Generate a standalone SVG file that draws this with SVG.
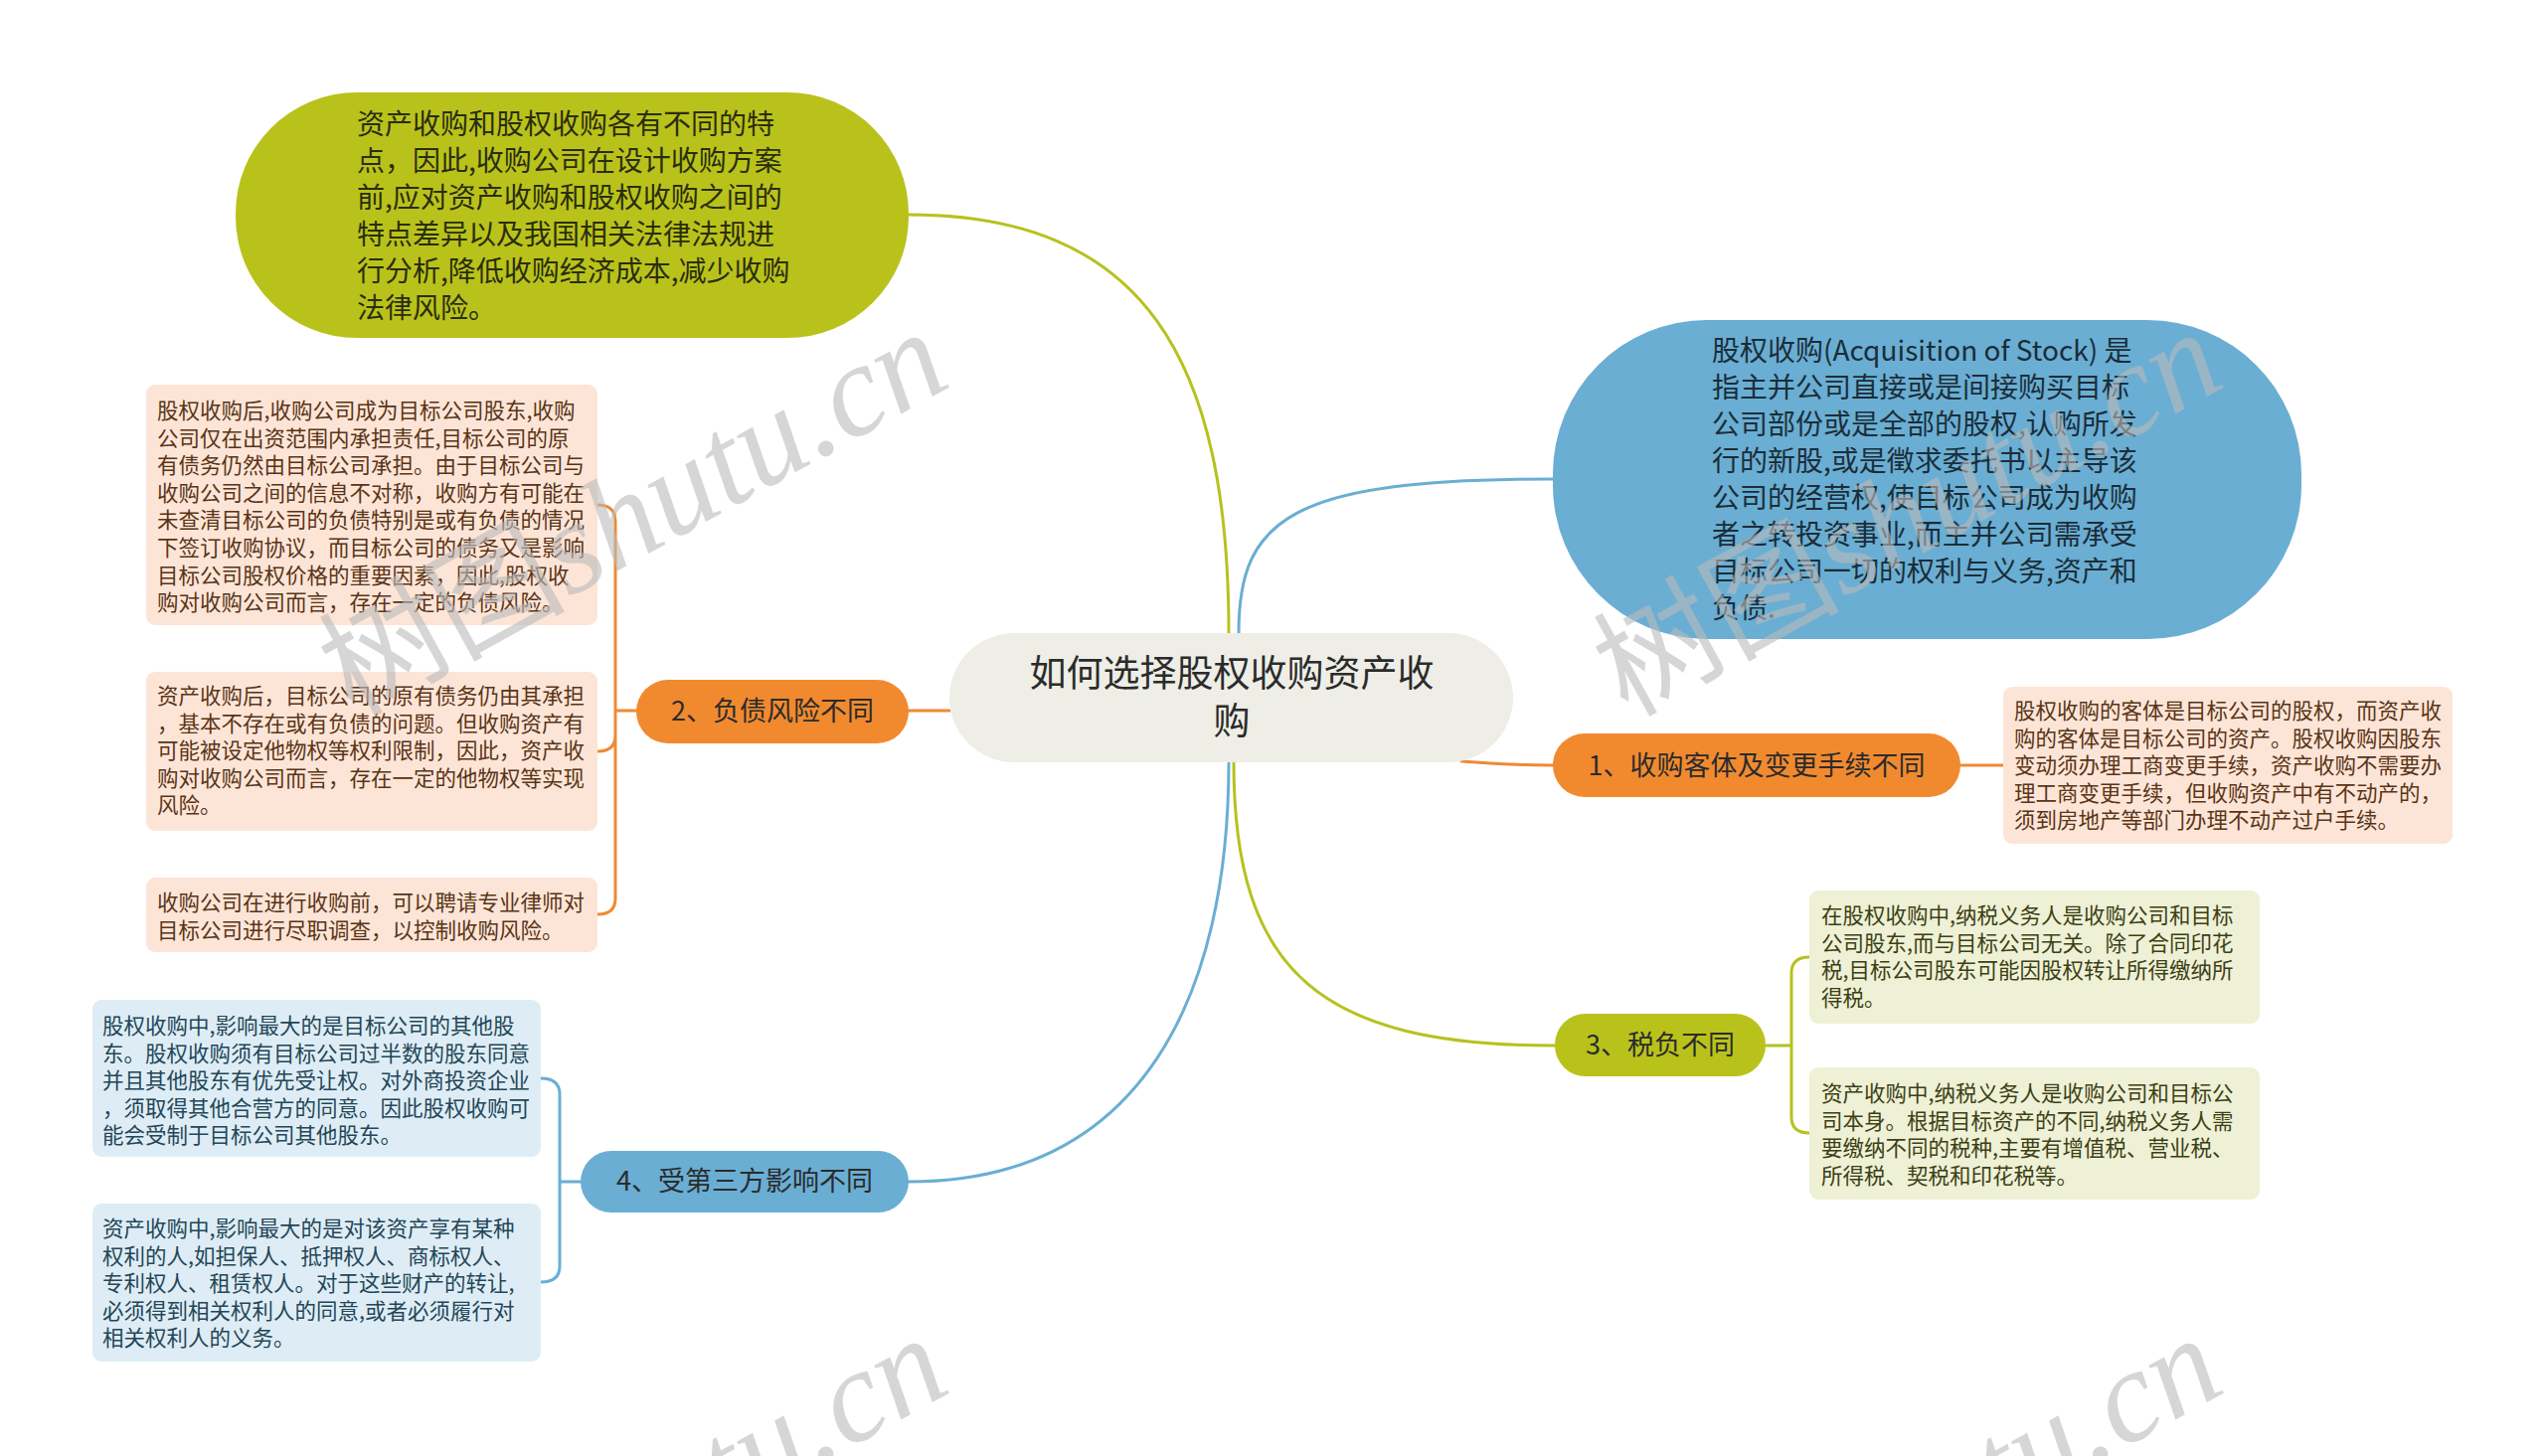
<svg xmlns="http://www.w3.org/2000/svg" width="2560" height="1465" viewBox="0 0 2560 1465">
<style>
text{font-family:"Noto Sans CJK SC","Noto Sans",sans-serif;dominant-baseline:central}
.c{fill:none;stroke-width:3;stroke-linecap:round;stroke-linejoin:round}
.cg{stroke:#b6c21d}.cb{stroke:#6aaed3}.co{stroke:#ee8a33}
.big{font-size:28px}
.leaf{font-size:21.5px}
.br{font-size:27px;fill:#2b2b2b;text-anchor:middle}
.fo{fill:#fce5d7}.fg{fill:#eef1d6}.fb{fill:#deedf5}
.to{fill:#5a3416}.tg{fill:#3c4014}.tb{fill:#244658}
.wm{fill:#bbbbbb;opacity:0.6;font-size:124px}
.wm .s{font-family:"Liberation Serif",serif;font-style:italic;font-size:132px}
</style>
<rect width="2560" height="1465" fill="#ffffff"/>
<g id="connectors">
<path class="c cg" d="M1236,637 C1236,360 1150,216 914,216"/>
<path class="c cb" d="M1246,637 C1246,520 1300,482 1562,482"/>
<path class="c co" d="M1470,766 C1510,769 1530,770 1562,770"/>
<path class="c co" d="M914,715 L955,715"/>
<path class="c cg" d="M1241,767 C1241,980 1330,1052 1564,1052"/>
<path class="c cb" d="M1236,767 C1236,1000 1150,1189 914,1189"/>
<path class="c co" d="M1972,770 L2015,770"/>
<path class="c co" d="M640,715 L619,715 L619,524 Q619,508 601,508 M619,715 L619,740 Q619,756 601,756 M619,715 L619,904 Q619,920 601,920"/>
<path class="c cb" d="M584,1189 L563,1189 L563,1101 Q563,1085 544,1085 M563,1189 L563,1274 Q563,1290 544,1290"/>
<path class="c cg" d="M1776,1052 L1802,1052 L1802,979 Q1802,963 1820,963 M1802,1052 L1802,1124 Q1802,1140 1820,1140"/>
</g>
<g id="node-top">
<rect x="237" y="93" width="677" height="247" rx="122" ry="122" fill="#b9c21b"/>
<text class="big" fill="#2a2d0e"><tspan x="359" y="123">资产收购和股权收购各有不同的特</tspan><tspan x="359" y="160">点，因此,收购公司在设计收购方案</tspan><tspan x="359" y="197">前,应对资产收购和股权收购之间的</tspan><tspan x="359" y="234">特点差异以及我国相关法律法规进</tspan><tspan x="359" y="271">行分析,降低收购经济成本,减少收购</tspan><tspan x="359" y="308">法律风险。</tspan></text>
</g>
<g id="node-def">
<rect x="1562" y="322" width="753" height="321" rx="155" ry="155" fill="#6aaed3"/>
<text class="big" fill="#1b2d38"><tspan x="1722" y="351">股权收购(Acquisition of Stock) 是</tspan><tspan x="1722" y="388">指主并公司直接或是间接购买目标</tspan><tspan x="1722" y="425">公司部份或是全部的股权,认购所发</tspan><tspan x="1722" y="462">行的新股,或是徵求委托书以主导该</tspan><tspan x="1722" y="499">公司的经营权,使目标公司成为收购</tspan><tspan x="1722" y="536">者之转投资事业,而主并公司需承受</tspan><tspan x="1722" y="573">目标公司一切的权利与义务,资产和</tspan><tspan x="1722" y="610">负债.</tspan></text>
</g>
<g id="node-center">
<rect x="955" y="637" width="567" height="130" rx="65" ry="65" fill="#eeeee6"/>
<text font-size="37" fill="#2b2b2b" text-anchor="middle"><tspan x="1239" y="675">如何选择股权收购资产收</tspan><tspan x="1239" y="723">购</tspan></text>
</g>
<g id="node-1">
<rect x="1562" y="738" width="410" height="64" rx="32" fill="#f18a2f"/>
<text class="br" x="1767" y="768">1、收购客体及变更手续不同</text>
</g>
<g id="node-2">
<rect x="640" y="684" width="274" height="64" rx="32" fill="#f18a2f"/>
<text class="br" x="777" y="713">2、负债风险不同</text>
</g>
<g id="node-3">
<rect x="1564" y="1020" width="212" height="63" rx="31" fill="#b9c21b"/>
<text class="br" x="1670" y="1049">3、税负不同</text>
</g>
<g id="node-4">
<rect x="584" y="1158" width="330" height="62" rx="31" fill="#6aaed3"/>
<text class="br" x="749" y="1186">4、受第三方影响不同</text>
</g>
<g id="leaf-1a">
<rect class="fo" x="2015" y="691" width="452" height="158" rx="9"/>
<text class="leaf to"><tspan x="2026" y="713">股权收购的客体是目标公司的股权，而资产收</tspan><tspan x="2026" y="740.6">购的客体是目标公司的资产。股权收购因股东</tspan><tspan x="2026" y="768.2">变动须办理工商变更手续，资产收购不需要办</tspan><tspan x="2026" y="795.8">理工商变更手续，但收购资产中有不动产的，</tspan><tspan x="2026" y="823.4">须到房地产等部门办理不动产过户手续。</tspan></text>
</g>
<g id="leaf-2a">
<rect class="fo" x="147" y="387" width="454" height="242" rx="9"/>
<text class="leaf to"><tspan x="158" y="411">股权收购后,收购公司成为目标公司股东,收购</tspan><tspan x="158" y="438.6">公司仅在出资范围内承担责任,目标公司的原</tspan><tspan x="158" y="466.2">有债务仍然由目标公司承担。由于目标公司与</tspan><tspan x="158" y="493.8">收购公司之间的信息不对称，收购方有可能在</tspan><tspan x="158" y="521.4">未查清目标公司的负债特别是或有负债的情况</tspan><tspan x="158" y="549">下签订收购协议，而目标公司的债务又是影响</tspan><tspan x="158" y="576.6">目标公司股权价格的重要因素，因此,股权收</tspan><tspan x="158" y="604.2">购对收购公司而言，存在一定的负债风险。</tspan></text>
</g>
<g id="leaf-2b">
<rect class="fo" x="147" y="676" width="454" height="160" rx="9"/>
<text class="leaf to"><tspan x="158" y="698">资产收购后，目标公司的原有债务仍由其承担</tspan><tspan x="158" y="725.6">，基本不存在或有负债的问题。但收购资产有</tspan><tspan x="158" y="753.2">可能被设定他物权等权利限制，因此，资产收</tspan><tspan x="158" y="780.8">购对收购公司而言，存在一定的他物权等实现</tspan><tspan x="158" y="808.4">风险。</tspan></text>
</g>
<g id="leaf-2c">
<rect class="fo" x="147" y="883" width="454" height="75" rx="9"/>
<text class="leaf to"><tspan x="158" y="906">收购公司在进行收购前，可以聘请专业律师对</tspan><tspan x="158" y="933.6">目标公司进行尽职调查，以控制收购风险。</tspan></text>
</g>
<g id="leaf-3a">
<rect class="fg" x="1820" y="896" width="453" height="134" rx="9"/>
<text class="leaf tg"><tspan x="1832" y="919">在股权收购中,纳税义务人是收购公司和目标</tspan><tspan x="1832" y="946.6">公司股东,而与目标公司无关。除了合同印花</tspan><tspan x="1832" y="974.2">税,目标公司股东可能因股权转让所得缴纳所</tspan><tspan x="1832" y="1001.8">得税。</tspan></text>
</g>
<g id="leaf-3b">
<rect class="fg" x="1820" y="1074" width="453" height="133" rx="9"/>
<text class="leaf tg"><tspan x="1832" y="1098">资产收购中,纳税义务人是收购公司和目标公</tspan><tspan x="1832" y="1125.6">司本身。根据目标资产的不同,纳税义务人需</tspan><tspan x="1832" y="1153.2">要缴纳不同的税种,主要有增值税、营业税、</tspan><tspan x="1832" y="1180.8">所得税、契税和印花税等。</tspan></text>
</g>
<g id="leaf-4a">
<rect class="fb" x="93" y="1006" width="451" height="158" rx="9"/>
<text class="leaf tb"><tspan x="103" y="1030">股权收购中,影响最大的是目标公司的其他股</tspan><tspan x="103" y="1057.6">东。股权收购须有目标公司过半数的股东同意</tspan><tspan x="103" y="1085.2">并且其他股东有优先受让权。对外商投资企业</tspan><tspan x="103" y="1112.8">，须取得其他合营方的同意。因此股权收购可</tspan><tspan x="103" y="1140.4">能会受制于目标公司其他股东。</tspan></text>
</g>
<g id="leaf-4b">
<rect class="fb" x="93" y="1211" width="451" height="159" rx="9"/>
<text class="leaf tb"><tspan x="103" y="1234">资产收购中,影响最大的是对该资产享有某种</tspan><tspan x="103" y="1261.6">权利的人,如担保人、抵押权人、商标权人、</tspan><tspan x="103" y="1289.2">专利权人、租赁权人。对于这些财产的转让,</tspan><tspan x="103" y="1316.8">必须得到相关权利人的同意,或者必须履行对</tspan><tspan x="103" y="1344.4">相关权利人的义务。</tspan></text>
</g>
<g id="watermarks">
<text class="wm" x="355" y="722" transform="rotate(-29 355 722)" style="dominant-baseline:alphabetic">树图<tspan class="s">shutu.cn</tspan></text>
<text class="wm" x="1637" y="722" transform="rotate(-29 1637 722)" style="dominant-baseline:alphabetic">树图<tspan class="s">shutu.cn</tspan></text>
<text class="wm" x="355" y="1734" transform="rotate(-29 355 1734)" style="dominant-baseline:alphabetic">树图<tspan class="s">shutu.cn</tspan></text>
<text class="wm" x="1637" y="1734" transform="rotate(-29 1637 1734)" style="dominant-baseline:alphabetic">树图<tspan class="s">shutu.cn</tspan></text>
</g>
</svg>
